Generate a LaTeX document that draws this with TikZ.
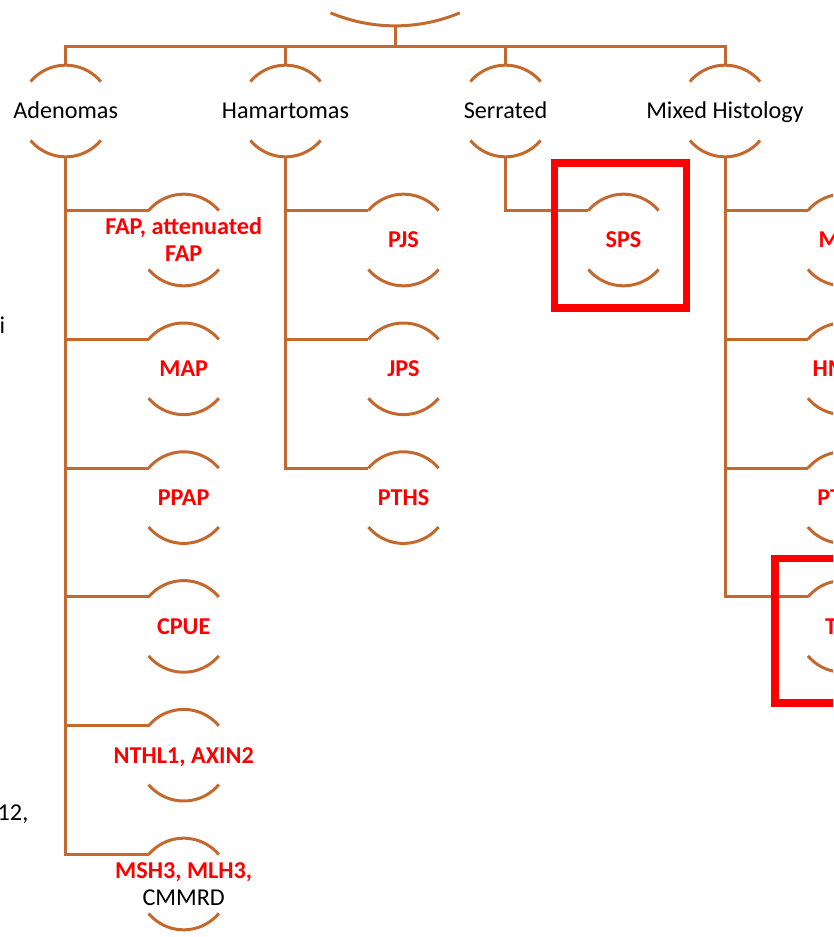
\documentclass[tikz,border=0pt]{standalone}
\usepackage{fontspec}
\setmainfont{Carlito}
\definecolor{branch}{HTML}{C4692E}
\definecolor{hilite}{HTML}{FF0000}
\tikzset{
  hub/.style={circle, minimum size=91.6pt, inner sep=0pt, outer sep=0pt},
  rim/.style={draw=branch, line width=3pt},
  link/.style={draw=branch, line width=3pt},
  txtline/.style={inner sep=0pt, text height=15.7pt, text depth=0pt},
  grp/.style={txtline, text=black, font=\fontsize{24.2}{29}\selectfont},
  syn/.style={txtline, text=hilite, font=\fontsize{24.2}{29}\selectfont\bfseries},
  flagbox/.style={draw=hilite, line width=7.6pt},
}
% top and bottom arcs of a hub circle
\newcommand\hubrims[1]{%
  \draw[rim] (#1.140) arc[start angle=140, end angle=40, radius=45.8pt];
  \draw[rim] (#1.220) arc[start angle=220, end angle=320, radius=45.8pt];}
\begin{document}
\begin{tikzpicture}[x=1pt, y=1pt]
\useasboundingbox (0,0) rectangle (833,-937);
\clip (0,0) rectangle (833,-937);

% root hub (only its lower arc lies in view)
\node[circle, minimum size=333.8pt, inner sep=0pt, outer sep=0pt] (root) at (395.7,140.8) {};
\draw[rim] (root.247.2) arc[start angle=247.2, end angle=292.8, radius=166.9pt];
\coordinate (bus) at (0,-46);

% first level
\node[hub] (ad) at (65.7,-111) {};
\node[hub] (ha) at (285.5,-111) {};
\node[hub] (se) at (505.5,-111) {};
\node[hub] (mx) at (725,-111) {};
\foreach \g in {ad,ha,se,mx}{
  \draw[link] (root.south) -- (root.south |- bus) -| (\g.north);
  \hubrims{\g}
}
\node[grp] (adt) at (ad) {Adenomas};
\node[grp] (hat) at (ha) {Hamartomas};
\node[grp] (set) at (se) {Serrated};
\node[grp] (mxt) at (mx) {Mixed Histology};

% adenoma syndromes
\node[hub] (fap)  at (183.7,-240)   {};
\node[hub] (map)  at (183.7,-368.8) {};
\node[hub] (ppap) at (183.7,-497.6) {};
\node[hub] (cpue) at (183.7,-626.4) {};
\node[hub] (nthl) at (183.7,-755.2) {};
\node[hub] (msh)  at (183.7,-884)   {};
% hamartoma syndromes
\node[hub] (pjs)  at (403.5,-240)   {};
\node[hub] (jps)  at (403.5,-368.8) {};
\node[hub] (pths) at (403.5,-497.6) {};
% serrated
\node[hub] (sps)  at (623.5,-240)   {};
% mixed histology
\node[hub] (mxa) at (843,-240)   {};
\node[hub] (mxb) at (843,-368.8) {};
\node[hub] (mxc) at (843,-497.6) {};
\node[hub] (mxd) at (843,-626.4) {};

\foreach \c in {fap,map,ppap,cpue,nthl,msh}{\draw[link] (ad.south) |- (\c.140); \hubrims{\c}}
\foreach \c in {pjs,jps,pths}{\draw[link] (ha.south) |- (\c.140); \hubrims{\c}}
\foreach \c in {sps}{\draw[link] (se.south) |- (\c.140); \hubrims{\c}}
\foreach \c in {mxa,mxb,mxc,mxd}{\draw[link] (mx.south) |- (\c.140); \hubrims{\c}}

% labels
\node[syn] (fapa) at ([yshift=13.7pt]fap.center) {FAP, attenuated};
\node[syn] (fapb) at ([yshift=-13.7pt]fap.center) {FAP};
\node[syn] (mapt) at (map) {MAP};
\node[syn] (ppapt) at (ppap) {PPAP};
\node[syn] (cpuet) at (cpue) {CPUE};
\node[syn] (nthlt) at (nthl) {NTHL1, AXIN2};
\node[syn] (msha) at ([yshift=13.7pt]msh.center) {MSH3, MLH3,};
\node[grp] (mshb) at ([yshift=-13.7pt]msh.center) {CMMRD};
\node[syn] (pjst) at (pjs) {PJS};
\node[syn] (jpst) at (jps) {JPS};
\node[syn] (ptht) at (pths) {PTHS};
\node[syn] (spst) at (sps) {SPS};
\node[syn] (mxat) at (mxa) {MAP};
\node[syn] (mxbt) at (mxb) {HMPS};
\node[syn] (mxct) at (mxc) {PTHS};
\node[syn, anchor=west] (mxdt) at (825,-626.4) {T};

% text running in from the left
\node[grp, anchor=base west] (lefti) at (-0.6,-333) {i};
\node[grp, anchor=base east] (left12) at (28.5,-820) {12,};

% highlight frames
\draw[flagbox] (554.3,-163) rectangle (686.3,-308);
\draw[flagbox] (775,-558.5) rectangle (907,-703);
\end{tikzpicture}
\end{document}
